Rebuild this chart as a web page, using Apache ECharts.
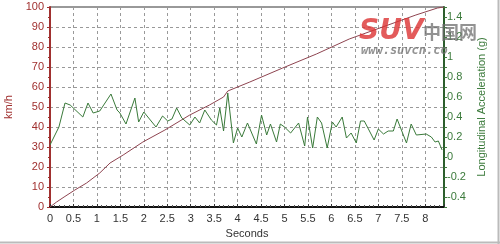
<!DOCTYPE html>
<html>
<head>
<meta charset="utf-8">
<script src="https://cdn.jsdelivr.net/npm/echarts@6/dist/echarts.min.js"></script>
<style>html,body{margin:0;padding:0;background:#fff}#c{width:500px;height:244px}</style>
</head>
<body>
<div id="c"></div>
<script>
// Speed (km/h) vs time (s)
var speedTime = [0, 0.14, 0.3, 0.53, 0.78, 1.06, 1.28, 1.56, 1.98, 2.45, 2.98, 3.40, 3.70, 3.79, 4.26, 4.96, 5.68, 6.38, 7.09, 7.8, 8.26, 8.4];
var speedKmh  = [0, 2.5, 5, 8.5, 12, 17, 22, 26, 32.5, 38.5, 46, 51, 55, 58, 62.5, 69.5, 76.5, 84, 90, 96, 99.5, 100];

// Longitudinal acceleration (g) vs time (s)
var accelTime = [0, 0.19, 0.32, 0.43, 0.70, 0.81, 0.92, 1.06, 1.30, 1.43, 1.49, 1.62, 1.81, 1.89, 2.0, 2.26, 2.40, 2.51, 2.6, 2.70, 2.81, 2.98, 3.09, 3.19, 3.30, 3.44, 3.55, 3.62, 3.70, 3.79, 3.91, 4.0, 4.09, 4.21, 4.40, 4.51, 4.62, 4.70, 4.83, 4.91, 5.0, 5.13, 5.30, 5.43, 5.49, 5.60, 5.70, 5.79, 5.91, 6.02, 6.1, 6.23, 6.32, 6.42, 6.53, 6.62, 6.70, 6.91, 7.0, 7.11, 7.21, 7.32, 7.40, 7.60, 7.70, 7.81, 8.02, 8.13, 8.21, 8.28, 8.36];
var accelG    = [0.12, 0.30, 0.54, 0.52, 0.40, 0.54, 0.44, 0.46, 0.63, 0.47, 0.44, 0.33, 0.59, 0.35, 0.45, 0.30, 0.41, 0.36, 0.38, 0.49, 0.39, 0.32, 0.40, 0.34, 0.47, 0.37, 0.32, 0.49, 0.26, 0.64, 0.14, 0.29, 0.20, 0.34, 0.13, 0.42, 0.22, 0.33, 0.15, 0.33, 0.30, 0.24, 0.34, 0.11, 0.40, 0.09, 0.40, 0.34, 0.09, 0.35, 0.30, 0.40, 0.19, 0.24, 0.14, 0.36, 0.36, 0.17, 0.28, 0.23, 0.26, 0.26, 0.38, 0.14, 0.33, 0.22, 0.23, 0.20, 0.15, 0.16, 0.07];

var xName = 'Seconds';
var leftName = 'km/h';
var rightName = 'Longitudinal Acceleration (g)';

function pairs(xs, ys) { return xs.map(function (x, i) { return [x, ys[i]]; }); }

var FONT = 'Liberation Sans';
var RED = '#a0302f';
var GREEN = '#3b7a3b';

var chart = echarts.init(document.getElementById('c'), null, {renderer: 'canvas'});
chart.setOption({
  animation: false,
  backgroundColor: '#fff',
  grid: {left: 50, right: 56, top: 7, bottom: 37, show: true, borderColor: '#333', borderWidth: 1, containLabel: false, outerBoundsMode: 'none'},
  xAxis: {
    type: 'value', min: 0, max: 8.4, interval: 0.5,
    name: xName, nameLocation: 'middle', nameGap: 21,
    nameTextStyle: {fontFamily: FONT, fontSize: 11, color: '#333'},
    axisLine: {lineStyle: {color: '#111', width: 2}},
    axisTick: {show: true, inside: true, length: 3, lineStyle: {color: '#333'}},
    minorTick: {show: true, splitNumber: 5, length: 2, lineStyle: {color: '#555'}},
    axisLabel: {fontFamily: FONT, fontSize: 11, color: '#333', margin: 6, showMaxLabel: false,
      formatter: function (v) { if (Math.abs(v * 2 - Math.round(v * 2)) > 1e-6) return ''; return String(Math.round(v * 10) / 10); }},
    splitLine: {show: true, lineStyle: {color: '#999', type: [3, 3], width: 1}}
  },
  yAxis: [{
    type: 'value', min: 0, max: 100, interval: 10, position: 'left',
    name: leftName, nameLocation: 'middle', nameGap: 31, nameRotate: 90,
    nameTextStyle: {fontFamily: FONT, fontSize: 11, color: RED},
    axisLine: {show: true, lineStyle: {color: RED, width: 2}},
    axisTick: {show: true, length: 3, lineStyle: {color: RED}},
    minorTick: {show: true, splitNumber: 2, length: 2, lineStyle: {color: RED}},
    axisLabel: {fontFamily: FONT, fontSize: 11, color: RED, margin: 6},
    splitLine: {show: true, lineStyle: {color: '#999', type: [3, 3], width: 1}}
  }, {
    type: 'value', min: -0.5, max: 1.5, interval: 0.1, position: 'right',
    name: rightName, nameLocation: 'middle', nameGap: 31, nameRotate: 90,
    nameTextStyle: {fontFamily: FONT, fontSize: 11, color: GREEN},
    axisLine: {show: true, lineStyle: {color: '#2d5e2d', width: 2}},
    axisTick: {show: true, length: 3, lineStyle: {color: GREEN}},
    axisLabel: {fontFamily: FONT, fontSize: 11, color: GREEN, margin: 3,
      formatter: function (v) { var k = Math.round(v * 10); if (k % 2 !== 0) return ''; return String(k / 10); }},
    splitLine: {show: false}
  }],
  graphic: [
    {type: 'text', left: 359, top: 18, z: 100, style: {text: 'SUV', fontFamily: 'DejaVu Sans', fontWeight: 'bold', fontStyle: 'italic', fontSize: 28, fill: 'rgba(220,50,50,0.8)'}},
    {type: 'text', left: 423, top: 23, z: 100, style: {text: '中国网', fontFamily: 'Noto Sans CJK SC', fontWeight: 'bold', fontSize: 18, fill: 'rgba(110,110,110,0.75)'}},
    {type: 'text', left: 361, top: 45, z: 100, style: {text: 'www.suvcn.co', fontFamily: 'DejaVu Sans Mono', fontWeight: 'bold', fontStyle: 'italic', fontSize: 12, fill: 'rgba(110,110,110,0.75)'}},
    {type: 'line', z: 100, shape: {x1: 0, y1: 242.5, x2: 500, y2: 242.5}, style: {stroke: '#bbb', lineWidth: 2}},
    {type: 'line', z: 100, shape: {x1: 498.5, y1: 0, x2: 498.5, y2: 244}, style: {stroke: '#bbb', lineWidth: 2}}
  ],
  series: [{
    type: 'line', yAxisIndex: 0, data: pairs(speedTime, speedKmh), showSymbol: false,
    lineStyle: {color: '#8e4450', width: 1}
  }, {
    type: 'line', yAxisIndex: 1, data: pairs(accelTime, accelG), showSymbol: false,
    lineStyle: {color: '#3a7a3a', width: 1}
  }]
});
</script>
</body>
</html>
